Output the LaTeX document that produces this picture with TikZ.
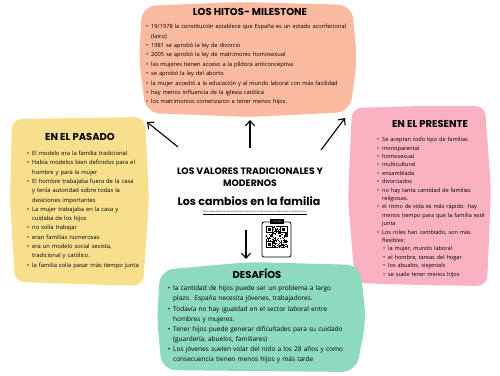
\documentclass[tikz,border=0pt]{standalone}
\usepackage{fontspec}
\setmainfont{Open Sans}
\newfontfamily\titlefont{Poppins}
\usepackage{enumitem}
\usetikzlibrary{arrows.meta}
\definecolor{hitos}{HTML}{F9BA9F}
\definecolor{pasado}{HTML}{F7DF8E}
\definecolor{presente}{HTML}{FAB1C2}
\definecolor{desafios}{HTML}{8EDABE}
\setlist[itemize]{leftmargin=7pt,labelsep=3pt,itemsep=0pt,topsep=0pt,parsep=0pt,partopsep=0pt,label=\textbullet}

\begin{document}
\begin{tikzpicture}[x=1pt,y=-1pt,
  heading/.style={font=\titlefont\bfseries\fontsize{10}{12}\selectfont},
  bullets/.style={anchor=north west,inner sep=0pt,text width=#1},
  link/.style={-{Straight Barb[length=5pt,width=9pt]},line width=1.1pt}]
\useasboundingbox (0,0) rectangle (500,375);
% coloured blobs
\fill[hitos,rounded corners=14pt] (142,6) -- (240,2) -- (352,5) -- (357,60) -- (350,112) -- (250,117) -- (146,113) -- (139,60) -- cycle;
\fill[pasado,rounded corners=10pt] (12,119) -- (80,118) -- (145,117) -- (149,200) -- (143,286) -- (80,284) -- (15,282) -- (10,200) -- cycle;
\fill[presente,rounded corners=10pt] (352,108) -- (420,106) -- (485,106) -- (491,190) -- (487,286) -- (420,285) -- (355,283) -- (348,200) -- cycle;
\fill[desafios,rounded corners=14pt] (160,270) -- (250,262) -- (360,265) -- (366,320) -- (356,372) -- (250,371) -- (162,370) -- (157,320) -- cycle;

\node[heading] (hitos) at (250,12) {LOS HITOS- MILESTONE};
\node[bullets=215pt,font=\fontsize{5.7}{9.4}\selectfont] (hitoslist) at (144,19) {\begin{itemize}
\item 19/1978 la constitución establece que España es un estado aconfecional\\(laico)
\item 1981 se aprobó la ley de divorcio
\item 2005 se aprobó la ley de matrimonio homosexual
\item las mujeres tienen acceso a la píldora anticonceptiva
\item se aprobó la ley del aborto
\item la mujer accedió a la educación y al mundo laboral con más facilidad
\item hay menos influencia de la iglesia católica
\item los matrimonios comenzaron a tener menos hijos.
\end{itemize}};

\node[heading] (pasado) at (80,137) {EN EL PASADO};
\node[bullets=125pt,font=\fontsize{5.8}{9.3}\selectfont] (pasadolist) at (25,146) {\begin{itemize}
\item El modelo era la familia tradicional
\item Había modelos bien definidos para el\\hombre y para la mujer
\item El hombre trabajaba fuera de la casa\\y tenía autoridad sobre todas la\\desiciones importantes
\item La mujer trabajaba en la casa y\\cuidaba de los hijos
\item no solía trabajar
\item eran familias numerosas
\item era un modelo social sexista,\\tradicional y católico.
\item la familia solía pasar más tiempo junta
\end{itemize}};

\node[heading] (presente) at (430,124) {EN EL PRESENTE};
\node[bullets=125pt,font=\fontsize{5.6}{8.4}\selectfont] (presentelist) at (375,133) {\begin{itemize}
\item Se aceptan todo tipo de familias
\item monoparental
\item homosexual
\item multicultural
\item ensamblada
\item divorciados
\item no hay tanta cantidad de familias\\religiosas.
\item el ritmo de vida es más rápido: hay\\menos tiempo para que la familia esté\\junta
\item Los roles han cambiado, son más\\flexibles:
  \begin{itemize}[leftmargin=6pt]
  \item la mujer, mundo laboral
  \item el hombre, tareas del hogar
  \item los abuelos, viejenials
  \item se suele tener menos hijos
  \end{itemize}
\end{itemize}};

\node[heading] (desafios) at (257,274) {DESAFÍOS};
\node[bullets=200pt,font=\fontsize{6.5}{10.1}\selectfont] (desafioslist) at (166,280.5) {\begin{itemize}
\item la cantidad de hijos puede ser un problema a largo\\plazo. España necesita jóvenes, trabajadores.
\item Todavía no hay igualdad en el sector laboral entre\\hombres y mujeres.
\item Tener hijos puede generar dificultades para su cuidado\\(guardería, abuelos, familiares)
\item Los jóvenes suelen volar del nido a los 28 años y como\\consecuencia tienen menos hijos y más tarde
\end{itemize}};

% centre
\node[font=\titlefont\bfseries\fontsize{9.3}{12}\selectfont,align=center] (valores) at (250,177) {LOS VALORES TRADICIONALES Y\\MODERNOS};
\node[font=\titlefont\bfseries\fontsize{11}{13}\selectfont] (cambios) at (249,201) {Los cambios en la familia};
\node[font=\fontsize{2.2}{3}\selectfont] (url) at (255,212.5) {\underline{https://www.flipsnack.com/Lucia7b1/los-cambios-en-la-familia-valores-tradicionales-y-modernos.html}};

% qr code
\draw[line width=0.8pt,rounded corners=2pt] (262,222) rectangle (291,257);
\fill (270,219) rectangle (284,223.5);
\node[text=white,font=\fontsize{2}{2}\selectfont,inner sep=0pt] (scan) at (277,221.3) {SCAN ME};
\pgfmathsetseed{12}
\foreach \i in {0,...,20}{
  \foreach \j in {0,...,20}{
    \pgfmathtruncatemacro\bit{rnd>0.5?1:0}
    \ifnum\bit=1 \fill (265.5+\i*1.05,226+\j*1.05) rectangle ++(1.05,1.05);\fi
  }
}
\foreach \px/\py in {265.5/226, 280.2/226, 265.5/240.7}{
  \fill[white] (\px,\py) rectangle ++(7.35,7.35);
  \draw[line width=1.05pt] (\px+0.525,\py+0.525) rectangle ++(6.3,6.3);
  \fill (\px+2.1,\py+2.1) rectangle ++(3.15,3.15);
}

% arrows
\coordinate (leftTail) at (178,147);
\coordinate (leftTip) at (147,122);
\coordinate (upTail) at (250,148);
\coordinate (upTip) at (250,120);
\coordinate (rightTail) at (321,150);
\coordinate (rightTip) at (345,118);
\coordinate (downTail) at (246,230);
\coordinate (downTip) at (246,259);
\draw[link] (leftTail) -- (leftTip);
\draw[link] (upTail) -- (upTip);
\draw[link] (rightTail) -- (rightTip);
\draw[link] (downTail) -- (downTip);
\end{tikzpicture}
\end{document}
